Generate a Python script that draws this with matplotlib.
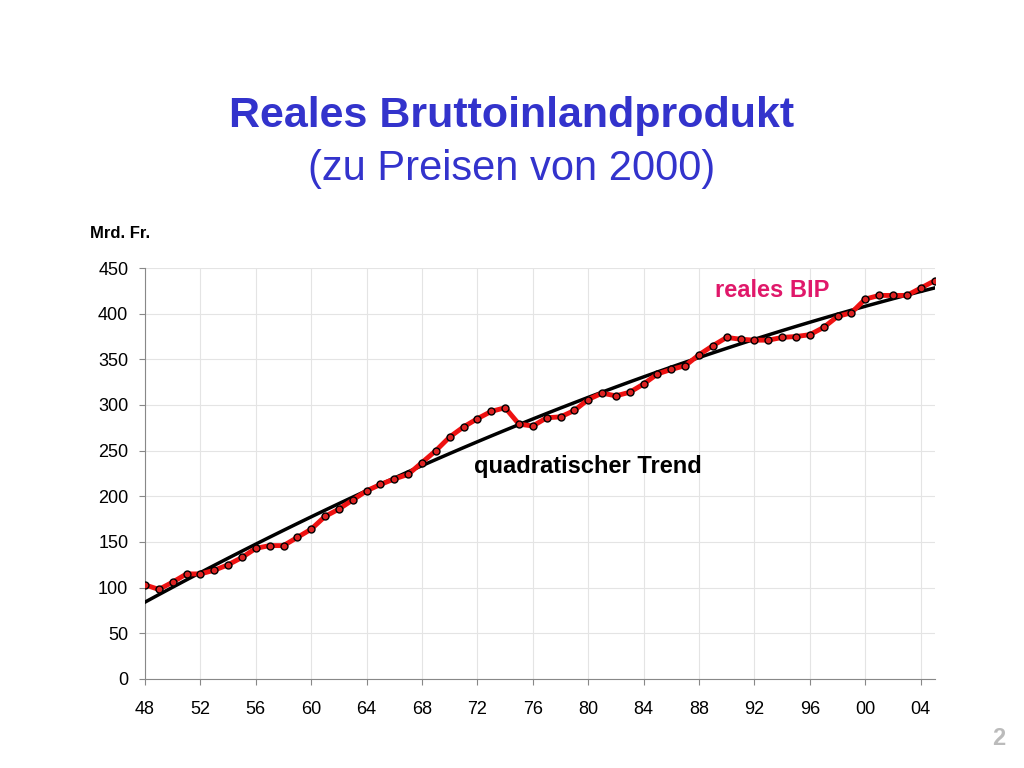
import numpy as np
import matplotlib
matplotlib.use("Agg")
import matplotlib.pyplot as plt

plt.rcParams["font.family"] = "Liberation Sans"

years = list(range(1948, 2006))
bip = [103, 98, 106, 115, 115, 119, 125, 133, 143, 146, 146, 155, 164, 178, 186, 196,
       206, 213, 219, 224, 237, 250, 265, 276, 285, 293, 297, 279, 277, 286, 287, 294,
       306, 313, 310, 314, 323, 334, 339, 343, 355, 365, 374, 372, 371, 371, 374, 375,
       377, 385, 397, 401, 416, 420, 420, 420, 428, 436]
tick_years = list(range(1948, 2005, 4))
tick_labels = ["%02d" % (y % 100) for y in tick_years]

x = np.array(years)
coef = np.polyfit(x - 1948, bip, 2)
trend = np.polyval(coef, x - 1948)

fig = plt.figure(figsize=(10.24, 7.68), dpi=100)
ax = fig.add_axes([0.1416, 0.116, 0.771, 0.535])
ax.plot(x, trend, color="black", lw=2.5, zorder=3)
ax.plot(x, bip, color="#ee1111", lw=3.5, marker="o", ms=5, mfc="#dd2222", mec="black", mew=1, zorder=4)
ax.set_xlim(1948, 2005)
ax.set_ylim(0, 450)
ax.set_yticks(range(0, 451, 50))
ax.set_xticks(tick_years)
ax.set_xticklabels(tick_labels)
ax.grid(True, color="#e4e4e4", lw=0.8)
ax.set_axisbelow(True)
for s in ["top", "right"]:
    ax.spines[s].set_visible(False)
for s in ["left", "bottom"]:
    ax.spines[s].set_color("#888888")
ax.tick_params(labelsize=13, length=4, color="#888888", pad=8)
ax.tick_params(axis="x", pad=12)

fig.text(0.5, 0.835, "Reales Bruttoinlandprodukt", ha="center", fontsize=31, weight="bold", color="#3333cc")
fig.text(0.5, 0.765, "(zu Preisen von 2000)", ha="center", fontsize=30, color="#3333cc")
fig.text(0.088, 0.69, "Mrd. Fr.", fontsize=12, weight="bold")
ax.text(1980.0, 245, "quadratischer Trend", fontsize=17, weight="bold", ha="center", va="top")
ax.text(1993.3, 425, "reales BIP", fontsize=17, weight="bold", color="#e0186a", ha="center", va="center")
fig.text(0.982, 0.03, "2", fontsize=17, color="#bbbbbb", weight="bold", ha="right")
fig.savefig("out.png")
